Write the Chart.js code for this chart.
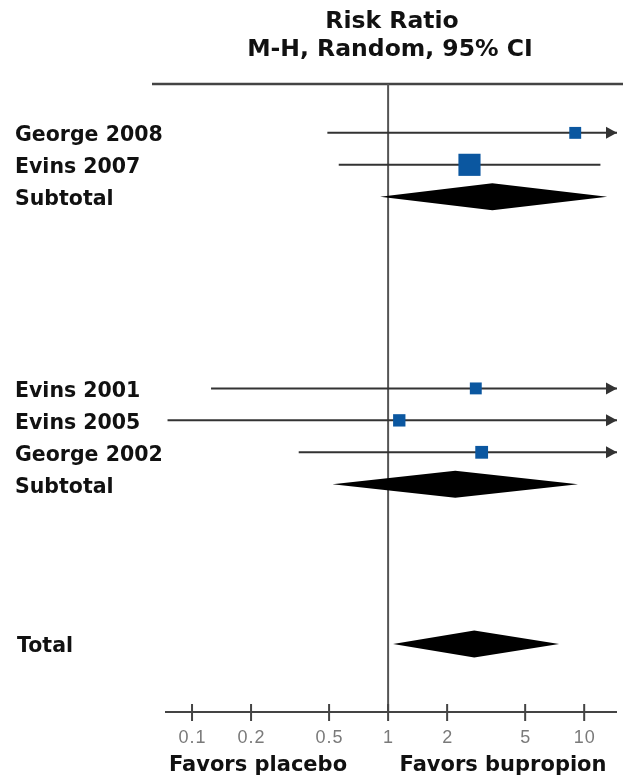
<!DOCTYPE html>
<html>
<head>
<meta charset="utf-8">
<script src="https://cdn.jsdelivr.net/npm/chart.js@4/dist/chart.umd.min.js"></script>
<style>
  html, body { margin: 0; padding: 0; background: #fff; }
  #wrap { width: 623px; height: 780px; }
</style>
</head>
<body>
<div id="wrap"><canvas id="forest" width="623" height="780"></canvas></div>
<script>
// Forest plot rows: studies, subgroup subtotals and the pooled total
const categories = ['George 2008', 'Evins 2007', 'Subtotal', 'Evins 2001', 'Evins 2005', 'George 2002', 'Subtotal', 'Total'];
const rowIndex   = [0, 1, 2, 8, 9, 10, 11, 16];
const rowKind    = ['study', 'study', 'pooled', 'study', 'study', 'study', 'pooled', 'pooled'];
const riskRatio  = [9.0, 2.6, 3.4, 2.8, 1.14, 3.0, 2.2, 2.75];
const ciLower    = [0.49, 0.56, 0.91, 0.125, 0.075, 0.35, 0.52, 1.06];
const ciUpper    = [165, 12.1, 13.1, 62, 17.3, 25.7, 9.3, 7.45];
const weightPct  = [13, 45, 58, 13, 14, 15, 42, 100];

const tickValues = [0.1, 0.2, 0.5, 1, 2, 5, 10];
const tickLabels = ['0.1', '0.2', '0.5', '1', '2', '5', '10'];
const axisRange  = [0.0728, 14.7];
const rowRange   = [-1.53, 18.13];

const titleLines = ['Risk Ratio', 'M-H, Random, 95% CI'];
const favorsLeft  = 'Favors placebo';
const favorsRight = 'Favors bupropion';

const BLUE = '#0b57a0';
const LINE = '#333333';
const LABEL_FONT = 'bold 20.5px "DejaVu Sans", sans-serif';

const studyIdx = rowKind.map((k, i) => k === 'study' ? i : -1).filter(i => i >= 0);
const pooledIdx = rowKind.map((k, i) => k === 'pooled' ? i : -1).filter(i => i >= 0);

// confidence interval whiskers for individual studies
const ciDatasets = studyIdx.map(i => ({
  type: 'scatter',
  showLine: true,
  data: [{ x: ciLower[i], y: rowIndex[i] }, { x: ciUpper[i], y: rowIndex[i] }],
  borderColor: LINE,
  borderWidth: 2,
  pointRadius: 0,
  order: 2
}));

// point estimates, square side grows with study weight
const squareDataset = {
  type: 'scatter',
  data: studyIdx.map(i => ({ x: riskRatio[i], y: rowIndex[i] })),
  pointStyle: 'rect',
  pointRadius: studyIdx.map(i => 3.3 * Math.sqrt(weightPct[i]) / Math.SQRT2),
  backgroundColor: BLUE,
  borderColor: BLUE,
  borderWidth: 0,
  order: 1
};

const forestPlugin = {
  id: 'forestDecor',
  beforeDatasetsDraw(chart) {
    const { ctx, chartArea: a, scales: { x } } = chart;
    ctx.save();
    // header rule
    ctx.strokeStyle = '#444';
    ctx.lineWidth = 2.5;
    ctx.beginPath();
    ctx.moveTo(152, a.top);
    ctx.lineTo(chart.width, a.top);
    ctx.stroke();
    // line of no effect
    const x1 = x.getPixelForValue(1);
    ctx.strokeStyle = '#555';
    ctx.lineWidth = 2;
    ctx.beginPath();
    ctx.moveTo(x1, a.top);
    ctx.lineTo(x1, a.bottom);
    ctx.stroke();
    ctx.restore();
  },
  afterDatasetsDraw(chart) {
    const { ctx, chartArea: a, scales: { x, y } } = chart;
    ctx.save();
    // arrows where the interval runs past the axis
    ctx.fillStyle = LINE;
    studyIdx.forEach(i => {
      if (ciUpper[i] > axisRange[1]) {
        const py = y.getPixelForValue(rowIndex[i]);
        const tip = a.right;
        ctx.beginPath();
        ctx.moveTo(tip, py);
        ctx.lineTo(tip - 11, py - 6);
        ctx.lineTo(tip - 11, py + 6);
        ctx.closePath();
        ctx.fill();
      }
    });
    // pooled estimates as diamonds
    ctx.fillStyle = '#000';
    pooledIdx.forEach(i => {
      const py = y.getPixelForValue(rowIndex[i]);
      const l = x.getPixelForValue(ciLower[i]);
      const c = x.getPixelForValue(riskRatio[i]);
      const r = x.getPixelForValue(ciUpper[i]);
      ctx.beginPath();
      ctx.moveTo(l, py);
      ctx.lineTo(c, py - 13.5);
      ctx.lineTo(r, py);
      ctx.lineTo(c, py + 13.5);
      ctx.closePath();
      ctx.fill();
    });

    // axis with ticks crossing the line
    ctx.strokeStyle = '#444';
    ctx.lineWidth = 2;
    ctx.beginPath();
    ctx.moveTo(a.left, a.bottom);
    ctx.lineTo(a.right, a.bottom);
    tickValues.forEach(v => {
      const px = x.getPixelForValue(v);
      ctx.moveTo(px, a.bottom - 8);
      ctx.lineTo(px, a.bottom + 9);
    });
    ctx.stroke();

    ctx.fillStyle = '#7a7a7a';
    ctx.font = '18px "Liberation Sans", Arial, sans-serif';
    ctx.textAlign = 'center';
    ctx.textBaseline = 'middle';
    ctx.letterSpacing = '1px';
    tickValues.forEach((v, k) => {
      ctx.fillText(tickLabels[k], x.getPixelForValue(v) + 0.5, a.bottom + 26);
    });
    ctx.letterSpacing = '0px';

    // direction labels
    ctx.fillStyle = '#111';
    ctx.font = 'bold 21px "DejaVu Sans", sans-serif';
    ctx.fillText(favorsLeft, 258, 766);
    ctx.fillText(favorsRight, 503, 766);

    // title
    ctx.font = 'bold 23.5px "DejaVu Sans", sans-serif';
    ctx.fillText(titleLines[0], 392, 22);
    ctx.fillText(titleLines[1], 390, 50);

    // row labels
    ctx.font = LABEL_FONT;
    ctx.textAlign = 'left';
    categories.forEach((name, i) => {
      ctx.fillText(name, i === categories.length - 1 ? 17 : 15, y.getPixelForValue(rowIndex[i]) + 3);
    });
    ctx.restore();
  }
};

new Chart(document.getElementById('forest'), {
  type: 'scatter',
  data: { datasets: [...ciDatasets, squareDataset] },
  options: {
    responsive: false,
    animation: false,
    layout: { autoPadding: false, padding: { left: 165, right: 6, top: 84, bottom: 68 } },
    plugins: { legend: { display: false }, tooltip: { enabled: false }, title: { display: false } },
    scales: {
      x: { type: 'logarithmic', min: axisRange[0], max: axisRange[1], display: false },
      y: { type: 'linear', min: rowRange[0], max: rowRange[1], reverse: true, display: false }
    }
  },
  plugins: [forestPlugin]
});
</script>
</body>
</html>
